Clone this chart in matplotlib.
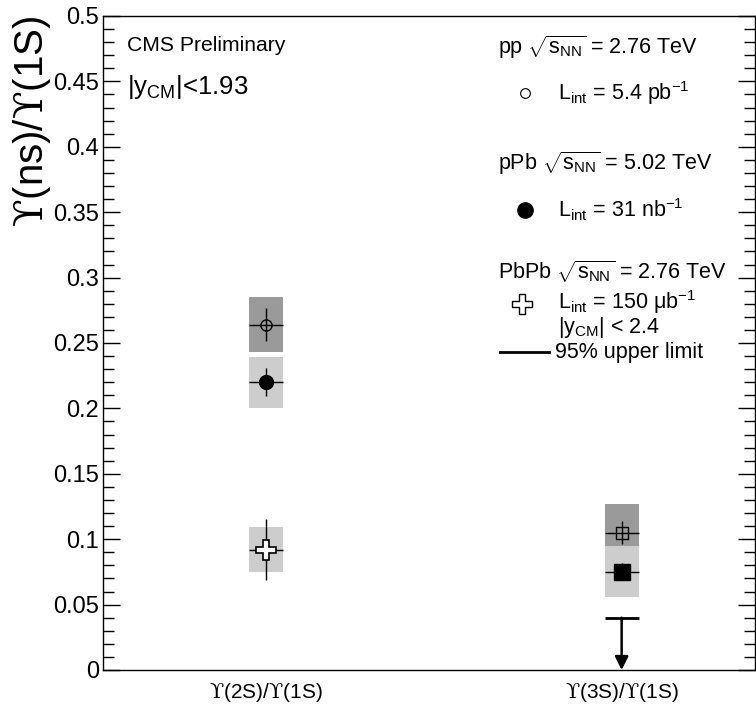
import numpy as np
import matplotlib
matplotlib.use("Agg")
import matplotlib.pyplot as plt

# Fontes no estilo ROOT (Helvetica ~ Liberation Sans); o ϒ vem de DejaVu Serif via mathtext
plt.rcParams['font.family'] = ['Liberation Sans', 'DejaVu Sans']
plt.rcParams['mathtext.fontset'] = 'custom'
plt.rcParams['mathtext.rm'] = 'Liberation Sans'
plt.rcParams['mathtext.it'] = 'Liberation Sans'
plt.rcParams['mathtext.sf'] = 'DejaVu Serif'
plt.rcParams['mathtext.default'] = 'regular'

U = r'$\mathsf{ϒ}$'

# Dados
categorias = [U + '(2S)/' + U + '(1S)', U + '(3S)/' + U + '(1S)']
x_cat = np.array([0.5, 1.59])

pp_val = [0.264, 0.105]
pp_stat = [0.0127, 0.009]
pp_syst = [0.021, 0.0216]

pPb_val = [0.220, 0.075]
pPb_stat = [0.0105, 0.0065]
pPb_syst = [0.0196, 0.0195]

PbPb_val = [0.092]
PbPb_stat = [0.0235]
PbPb_syst = [0.017]
PbPb_limite = 0.040   # limite superior 95% para ϒ(3S)/ϒ(1S)

cinza_escuro = '#9a9a9a'
cinza_claro = '#cdcdcd'
largura = 0.104

fig = plt.figure(figsize=(7.56, 7.04), dpi=100)
ax = fig.add_axes([0.1362, 0.0483, 0.863, 0.929])

# pp: caixas sistemáticas + pontos
ax.bar(x_cat, 2 * np.array(pp_syst), bottom=np.array(pp_val) - np.array(pp_syst),
       width=largura, color=cinza_escuro, zorder=1)
ax.errorbar(x_cat[0], pp_val[0], yerr=pp_stat[0], xerr=largura / 2, fmt='o', ms=8,
            mfc='none', mec='black', mew=1.0, ecolor='black', elinewidth=1.0, zorder=2)
ax.errorbar(x_cat[1], pp_val[1], yerr=pp_stat[1], xerr=largura / 2, fmt='s', ms=9,
            mfc='none', mec='black', mew=1.0, ecolor='black', elinewidth=1.0, zorder=2)

# pPb
ax.bar(x_cat, 2 * np.array(pPb_syst), bottom=np.array(pPb_val) - np.array(pPb_syst),
       width=largura, color=cinza_claro, zorder=3)
ax.errorbar(x_cat[0], pPb_val[0], yerr=pPb_stat[0], xerr=largura / 2, fmt='o', ms=10,
            mfc='black', mec='black', ecolor='black', elinewidth=1.0, zorder=4)
ax.errorbar(x_cat[1], pPb_val[1], yerr=pPb_stat[1], xerr=largura / 2, fmt='s', ms=11,
            mfc='black', mec='black', ecolor='black', elinewidth=1.0, zorder=4)

# PbPb
ax.bar(x_cat[:1], 2 * np.array(PbPb_syst), bottom=np.array(PbPb_val) - np.array(PbPb_syst),
       width=largura, color=cinza_claro, zorder=5)
ax.errorbar(x_cat[:1], PbPb_val, yerr=PbPb_stat, xerr=largura / 2, fmt='P', ms=15,
            mfc='white', mec='black', mew=1.2, ecolor='black', elinewidth=1.0, zorder=6)

# limite superior PbPb ϒ(3S)
ax.hlines(PbPb_limite, x_cat[1] - largura / 2, x_cat[1] + largura / 2, color='black',
          lw=2.0, zorder=6)
ax.annotate('', xy=(x_cat[1], 0), xytext=(x_cat[1], PbPb_limite),
            arrowprops=dict(arrowstyle='-|>', color='black', lw=1.8,
                            mutation_scale=20, shrinkA=0, shrinkB=0), zorder=6)

# Eixos
ax.set_xlim(0, 2)
ax.set_ylim(0, 0.5)
ax.set_xticks(x_cat)
ax.set_xticklabels(categorias, fontsize=15)
ax.tick_params(axis='x', length=0, pad=8)
ax.set_yticks(np.arange(0, 0.501, 0.05))
ax.set_yticklabels(['0', '0.05', '0.1', '0.15', '0.2', '0.25', '0.3', '0.35', '0.4', '0.45', '0.5'])
ax.set_yticks(np.arange(0, 0.501, 0.01), minor=True)
ax.tick_params(axis='y', which='major', direction='in', length=12, width=1.0,
               right=True, labelsize=17, pad=3)
ax.tick_params(axis='y', which='minor', direction='in', length=8, width=1.0, right=True)
for s in ax.spines.values():
    s.set_linewidth(1.0)

ax.set_ylabel(U + '(ns)/' + U + '(1S)', fontsize=29, loc='top')
ax.yaxis.set_label_coords(-0.076, 1.0)

# Textos
ax.text(0.037, 0.955, 'CMS Preliminary', transform=ax.transAxes, fontsize=15.2, va='center')
ax.text(0.037, 0.891, r'|y$_{CM}$|<1.93', transform=ax.transAxes, fontsize=18.5, va='center')

# Legenda manual
tam = 15.5
ax.text(0.606, 0.953, r'pp $\sqrt{s_{NN}}$ = 2.76 TeV', transform=ax.transAxes, fontsize=tam, va='center')
ax.plot(0.647, 0.882, 'o', ms=7, mfc='none', mec='black', mew=0.8, transform=ax.transAxes, clip_on=False)
ax.text(0.698, 0.882, r'L$_{int}$ = 5.4 pb$^{-1}$', transform=ax.transAxes, fontsize=tam, va='center')

ax.text(0.606, 0.775, r'pPb $\sqrt{s_{NN}}$ = 5.02 TeV', transform=ax.transAxes, fontsize=tam, va='center')
ax.plot(0.647, 0.703, 'o', ms=11, color='black', transform=ax.transAxes, clip_on=False)
ax.text(0.698, 0.703, r'L$_{int}$ = 31 nb$^{-1}$', transform=ax.transAxes, fontsize=tam, va='center')

ax.text(0.606, 0.609, r'PbPb $\sqrt{s_{NN}}$ = 2.76 TeV', transform=ax.transAxes, fontsize=tam, va='center')
ax.plot(0.642, 0.560, 'P', ms=14, mfc='white', mec='black', mew=1.0, transform=ax.transAxes, clip_on=False)
ax.text(0.698, 0.562, r'L$_{int}$ = 150 μb$^{-1}$', transform=ax.transAxes, fontsize=tam, va='center')
ax.text(0.698, 0.524, r'|y$_{CM}$| < 2.4', transform=ax.transAxes, fontsize=tam, va='center')
ax.plot([0.609, 0.683], [0.486, 0.486], color='black', lw=2.0, transform=ax.transAxes, clip_on=False)
ax.text(0.693, 0.486, '95% upper limit', transform=ax.transAxes, fontsize=tam, va='center')

fig.savefig('out.png', dpi=100)
